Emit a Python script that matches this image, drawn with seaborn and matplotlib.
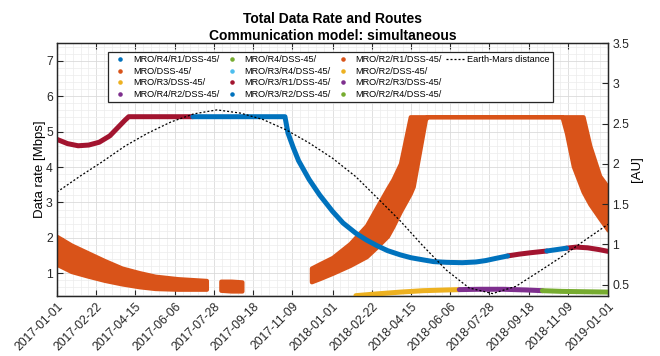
import numpy as np
import pandas as pd
import matplotlib
matplotlib.use("Agg")
import matplotlib.pyplot as plt
import matplotlib.dates as mdates
from matplotlib.lines import Line2D
from matplotlib.ticker import FixedLocator, MultipleLocator, FuncFormatter
import seaborn as sns

# ---------------------------------------------------------------- data
routes = ["MRO/R4/R1/DSS-45/", "MRO/DSS-45/", "MRO/R3/DSS-45/", "MRO/R4/R2/DSS-45/",
          "MRO/R4/DSS-45/", "MRO/R3/R4/DSS-45/", "MRO/R3/R1/DSS-45/", "MRO/R3/R2/DSS-45/",
          "MRO/R2/R1/DSS-45/", "MRO/R2/DSS-45/", "MRO/R2/R3/DSS-45/", "MRO/R2/R4/DSS-45/"]
route_colors = ["#0072BD", "#D95319", "#EDB120", "#7E2F8E",
                "#77AC30", "#4DBEEE", "#A2142F", "#0072BD",
                "#D95319", "#EDB120", "#7E2F8E", "#77AC30"]

# relay routes: rate in Mbps
r3r1_a_dates = ["2017-01-01", "2017-01-15", "2017-01-29", "2017-02-12", "2017-02-26",
                "2017-03-12", "2017-03-22", "2017-04-01", "2017-04-06", "2017-06-30"]
r3r1_a_rate = [4.78, 4.66, 4.60, 4.62, 4.70, 4.88, 5.10, 5.32, 5.42, 5.42]

r3r2_a_dates = ["2017-06-30", "2017-10-30", "2017-11-03", "2017-11-10", "2017-11-17",
                "2017-12-01", "2017-12-15", "2018-01-01", "2018-01-15", "2018-02-01",
                "2018-02-15", "2018-03-01", "2018-03-15", "2018-04-01", "2018-04-15",
                "2018-05-01", "2018-05-15", "2018-06-01", "2018-06-22", "2018-07-10",
                "2018-07-23", "2018-08-05", "2018-08-21"]
r3r2_a_rate = [5.42, 5.42, 4.96, 4.55, 4.18, 3.65, 3.21, 2.75, 2.42, 2.13,
               1.94, 1.78, 1.64, 1.52, 1.44, 1.38, 1.33, 1.31, 1.30, 1.32,
               1.36, 1.42, 1.49]

r3r1_b_dates = ["2018-08-21", "2018-09-05", "2018-09-20", "2018-10-12"]
r3r1_b_rate = [1.49, 1.54, 1.58, 1.63]

r3r2_b_dates = ["2018-10-12", "2018-10-25", "2018-11-07"]
r3r2_b_rate = [1.63, 1.67, 1.71]

r3r1_c_dates = ["2018-11-07", "2018-11-20", "2018-12-05", "2018-12-20", "2019-01-01"]
r3r1_c_rate = [1.71, 1.74, 1.72, 1.67, 1.62]

r2_dates = ["2018-02-01", "2018-03-01", "2018-04-01", "2018-05-01", "2018-06-01", "2018-06-18"]
r2_rate = [0.37, 0.42, 0.47, 0.51, 0.53, 0.54]

r2r3_dates = ["2018-06-18", "2018-07-15", "2018-08-15", "2018-09-15", "2018-10-06"]
r2r3_rate = [0.54, 0.55, 0.55, 0.53, 0.51]

r2r4_dates = ["2018-10-06", "2018-11-01", "2018-12-01", "2019-01-01"]
r2r4_rate = [0.51, 0.49, 0.48, 0.47]

# direct link: spread of the daily passes (upper / lower envelope, Mbps)
direct_1_dates = ["2017-01-01", "2017-01-20", "2017-02-11", "2017-03-05", "2017-03-28",
                  "2017-04-20", "2017-05-11", "2017-06-10", "2017-07-18"]
direct_1_upper = [2.04, 1.80, 1.58, 1.36, 1.15, 1.02, 0.92, 0.85, 0.80]
direct_1_lower = [1.25, 1.05, 0.92, 0.80, 0.70, 0.62, 0.57, 0.55, 0.55]

direct_2_dates = ["2017-08-06", "2017-08-20", "2017-09-03"]
direct_2_upper = [0.78, 0.78, 0.76]
direct_2_lower = [0.52, 0.50, 0.50]

direct_3_dates = ["2017-12-04", "2017-12-15", "2018-01-01", "2018-01-24", "2018-02-15",
                  "2018-03-01", "2018-03-15", "2018-03-22", "2018-04-01", "2018-04-14",
                  "2018-04-18", "2018-05-04", "2018-05-06", "2018-11-01", "2018-11-07",
                  "2018-11-16", "2018-11-29", "2018-12-08", "2018-12-21", "2019-01-01"]
direct_3_upper = [1.15, 1.27, 1.45, 1.84, 2.35, 2.88, 3.40, 3.65, 4.10, 5.42,
                  5.42, 5.42, 5.42, 5.42, 5.42, 5.42, 5.42, 4.60, 3.75, 3.43]
direct_3_lower = [0.76, 0.85, 1.00, 1.22, 1.47, 1.75, 2.05, 2.32, 2.75, 3.25,
                  3.45, 5.33, 5.42, 5.42, 4.95, 4.02, 3.30, 2.95, 2.55, 2.22]

# Earth-Mars distance [AU], first of each month
dist_dates = pd.date_range("2017-01-01", "2019-01-01", freq="MS")
dist_au = [1.65, 1.85, 2.02, 2.22, 2.38, 2.52, 2.62, 2.67, 2.63, 2.55, 2.42, 2.26,
           2.07, 1.84, 1.58, 1.29, 0.98, 0.68, 0.46, 0.39, 0.48, 0.66, 0.85, 1.05, 1.25]

tick_labels = ["2017-01-01", "2017-02-22", "2017-04-15", "2017-06-06", "2017-07-28",
               "2017-09-18", "2017-11-09", "2018-01-01", "2018-02-22", "2018-04-15",
               "2018-06-06", "2018-07-28", "2018-09-18", "2018-11-09", "2019-01-01"]

# ---------------------------------------------------------------- style
sns.set_theme(style="ticks")
plt.rcParams["font.family"] = ["Liberation Sans", "DejaVu Sans"]
axis_col = "#262626"
plt.rcParams.update({
    "axes.edgecolor": axis_col, "axes.linewidth": 0.9,
    "xtick.color": axis_col, "ytick.color": axis_col,
    "text.color": "black", "axes.labelcolor": "black",
})

fig = plt.figure(figsize=(6.6, 3.56), dpi=100)
ax = fig.add_axes([57 / 660, 60 / 356, 551 / 660, 253 / 356])
ax2 = ax.twinx()

# ---------------------------------------------------------------- direct-link band
orange = route_colors[1]
for d, up, lo in [(direct_1_dates, direct_1_upper, direct_1_lower),
                  (direct_2_dates, direct_2_upper, direct_2_lower),
                  (direct_3_dates, direct_3_upper, direct_3_lower)]:
    ax.fill_between(pd.to_datetime(d), lo, up, color=orange, edgecolor=orange,
                    linewidth=3.0, zorder=2)

# ---------------------------------------------------------------- relay routes
segments = [
    ("MRO/R3/R1/DSS-45/", r3r1_a_dates, r3r1_a_rate),
    ("MRO/R3/R2/DSS-45/", r3r2_a_dates, r3r2_a_rate),
    ("MRO/R3/R1/DSS-45/", r3r1_b_dates, r3r1_b_rate),
    ("MRO/R3/R2/DSS-45/", r3r2_b_dates, r3r2_b_rate),
    ("MRO/R3/R1/DSS-45/", r3r1_c_dates, r3r1_c_rate),
    ("MRO/R2/DSS-45/", r2_dates, r2_rate),
    ("MRO/R2/R3/DSS-45/", r2r3_dates, r2r3_rate),
    ("MRO/R2/R4/DSS-45/", r2r4_dates, r2r4_rate),
]
frames = []
for i, (route, d, r) in enumerate(segments):
    frames.append(pd.DataFrame({"date": pd.to_datetime(d), "rate": r,
                                "route": route, "seg": i}))
df = pd.concat(frames, ignore_index=True)
palette = {r: c for r, c in zip(routes, route_colors)}
sns.lineplot(data=df, x="date", y="rate", hue="route", units="seg", estimator=None,
             sort=False, palette=palette, linewidth=3.6, legend=False, ax=ax, zorder=3)

# ---------------------------------------------------------------- distance
sns.lineplot(x=dist_dates, y=dist_au, ax=ax2, color="black", linewidth=0.9,
             linestyle=(0, (1.6, 1.6)), legend=False)

# ---------------------------------------------------------------- axes
x0, x1 = pd.Timestamp("2017-01-01"), pd.Timestamp("2019-01-01")
ax.set_xlim(x0, x1)
ax.set_ylim(0.36, 7.5)
ax2.set_ylim(0.36, 3.5)

major = mdates.date2num(pd.to_datetime(tick_labels))
ax.xaxis.set_major_locator(FixedLocator(major))
ax.set_xticklabels(tick_labels, rotation=45, ha="right", rotation_mode="anchor",
                   fontsize=8.8)
minor = []
for a, b in zip(major[:-1], major[1:]):
    minor.extend(np.linspace(a, b, 6)[1:-1])
ax.xaxis.set_minor_locator(FixedLocator(minor))

ax.yaxis.set_major_locator(FixedLocator([1, 2, 3, 4, 5, 6, 7]))
ax.yaxis.set_minor_locator(MultipleLocator(0.2))
ax.yaxis.set_major_formatter(FuncFormatter(lambda v, p: f"{v:g}"))
ax2.yaxis.set_major_locator(FixedLocator([0.5, 1, 1.5, 2, 2.5, 3, 3.5]))
ax2.yaxis.set_major_formatter(FuncFormatter(lambda v, p: f"{v:g}"))

ax.tick_params(axis="x", which="major", direction="in", length=4, width=0.8,
               top=True, bottom=True, pad=3)
ax.tick_params(axis="y", which="major", direction="in", length=4, width=0.8,
               left=True, right=False, labelsize=8.8, pad=3)
ax.tick_params(which="minor", length=0)
ax2.tick_params(axis="y", which="major", direction="in", length=4, width=0.8,
                labelsize=8.8, pad=3)
ax2.tick_params(which="minor", length=0)

ax.set_axisbelow(True)
ax.grid(which="major", color="#dadada", linewidth=0.6)
ax.grid(which="minor", color="#ececec", linewidth=0.5)
ax2.grid(False)
for a in (ax, ax2):
    for s in a.spines.values():
        s.set_visible(True)
        s.set_color(axis_col)
        s.set_linewidth(0.9)

ax.set_xlabel("")
ax.set_ylabel("Data rate [Mbps]", fontsize=9.5, labelpad=0)
ax2.set_ylabel("[AU]", fontsize=9.5, labelpad=1)
ax.set_title("Total Data Rate and Routes\nCommunication model: simultaneous",
             fontsize=10, fontweight="bold", pad=2, linespacing=1.3)

# ---------------------------------------------------------------- legend
handles, labels = [], []
for r, c in zip(routes, route_colors):
    handles.append(Line2D([], [], linestyle="none", marker=".", markersize=4.5, color=c))
    labels.append(r)
handles.append(Line2D([], [], color="black", linewidth=0.9, linestyle=(0, (1.6, 1.6))))
labels.append("Earth-Mars distance")
for _ in range(3):
    handles.append(Line2D([], [], linestyle="none"))
    labels.append("")
leg = ax.legend(handles, labels, ncol=4, loc="upper left",
                bbox_to_anchor=((108 - 57) / 551, (296 - 52) / 253),
                borderaxespad=0, fontsize=6.6, frameon=True, fancybox=False,
                edgecolor=axis_col, framealpha=1, handlelength=2.0,
                handletextpad=0.35, columnspacing=0.4, labelspacing=0.28,
                borderpad=0.35)
leg.get_frame().set_linewidth(0.9)
leg.set_zorder(10)

fig.savefig("out.png", dpi=100)
